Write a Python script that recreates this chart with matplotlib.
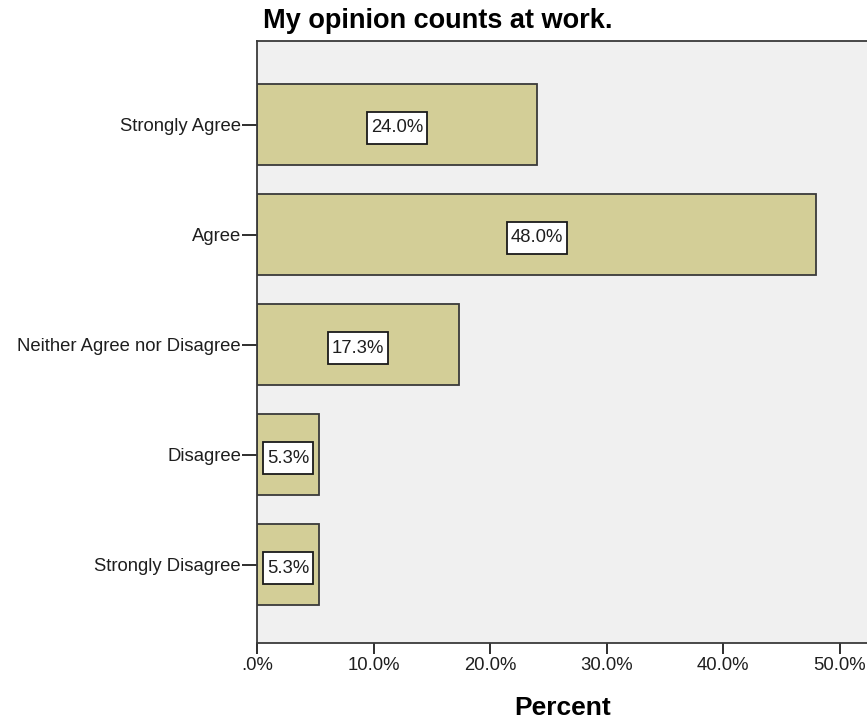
"""SPSS-style horizontal bar chart: My opinion counts at work."""

import matplotlib

matplotlib.use("Agg")
import matplotlib.pyplot as plt
from matplotlib.path import Path
from matplotlib.ticker import FuncFormatter

plt.rcParams["font.family"] = ["Liberation Sans", "DejaVu Sans"]

categories = ["Strongly Agree", "Agree", "Neither Agree nor Disagree", "Disagree", "Strongly Disagree"]
percents = [24.0, 48.0, 17.3, 5.3, 5.3]
x_ticks = [0, 10, 20, 30, 40, 50]

BAR_COLOR = "#D3CE97"
EDGE_COLOR = "#3A3A3A"
PANEL_COLOR = "#F0F0F0"
TEXT_COLOR = "#1E1E1E"


def label_box(x0, y0, width, height, mutation_size):
    """Rectangle with more vertical than horizontal padding, like SPSS labels."""
    px = 0.2 * mutation_size
    py = 0.42 * mutation_size
    x0, x1 = x0 - px, x0 + width + px
    y0, y1 = y0 - py, y0 + height + py
    return Path([(x0, y0), (x1, y0), (x1, y1), (x0, y1), (x0, y0)], closed=True)


fig = plt.figure(figsize=(8.67, 7.25), dpi=100)
ax = fig.add_axes([257 / 867, 1 - 643 / 725, 1 - 257 / 867 + 0.002, (643 - 41) / 725])
ax.set_facecolor(PANEL_COLOR)

positions = list(range(len(categories)))
ax.barh(positions, percents, height=0.735, color=BAR_COLOR, edgecolor=EDGE_COLOR, linewidth=1.3, zorder=2)

for pos, value in zip(positions, percents):
    ax.text(
        value / 2, pos + 0.03, f"{value:.1f}%",
        ha="center", va="center", fontsize=13.3, color=TEXT_COLOR, zorder=3,
        bbox=dict(boxstyle=label_box, facecolor="white", edgecolor="#1A1A1A", linewidth=1.3),
    )

ax.set_xlim(0, 52.5)
ax.set_ylim(len(categories) - 1 + 0.71, -0.76)
ax.set_yticks(positions)
ax.set_yticklabels(categories, fontsize=13.3, color=TEXT_COLOR)
ax.set_xticks(x_ticks)
ax.xaxis.set_major_formatter(FuncFormatter(lambda v, _: ".0%" if v == 0 else f"{v:.1f}%"))
ax.tick_params(axis="x", labelsize=13.3, colors=TEXT_COLOR, length=8, width=1.3, pad=2)
ax.tick_params(axis="y", length=11, width=1.3, pad=0.5, colors=TEXT_COLOR)

for side in ["left", "bottom", "top"]:
    ax.spines[side].set_color(EDGE_COLOR)
    ax.spines[side].set_linewidth(1.3)
ax.spines["right"].set_visible(False)

ax.set_xlabel("Percent", fontsize=19, fontweight="bold", labelpad=16)
fig.text(263 / 867, 1 - 21 / 725, "My opinion counts at work.", fontsize=19.5, fontweight="bold",
         ha="left", va="center")

fig.savefig("out.png", dpi=100)
